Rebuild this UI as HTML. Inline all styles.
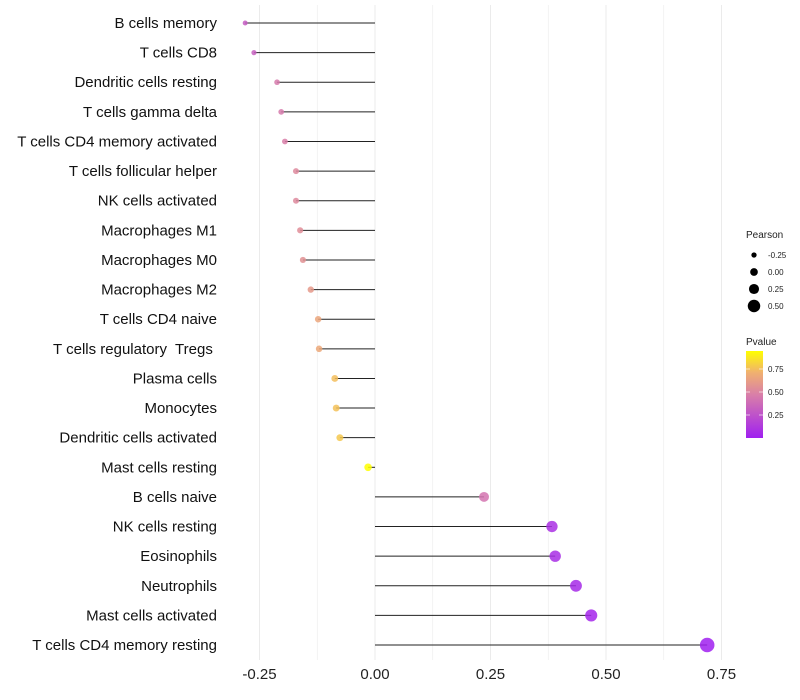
<!DOCTYPE html>
<html><head><meta charset="utf-8"><style>body{margin:0;background:#fff}svg{display:block;font-family:"Liberation Sans",sans-serif}</style></head>
<body>
<svg id="c" width="800" height="700">
<defs><linearGradient id="pg" x1="0" y1="1" x2="0" y2="0">
<stop offset="0" stop-color="#a020f0"/><stop offset="0.5" stop-color="#d97fa8"/><stop offset="0.75" stop-color="#f0b070"/><stop offset="1" stop-color="#ffff00"/></linearGradient></defs>
<g id="grid"></g><g id="marks"></g><g id="labels"></g><g id="legend"></g>
</svg>
<script>
const categories=["B cells memory","T cells CD8","Dendritic cells resting","T cells gamma delta","T cells CD4 memory activated","T cells follicular helper","NK cells activated","Macrophages M1","Macrophages M0","Macrophages M2","T cells CD4 naive","T cells regulatory  Tregs ","Plasma cells","Monocytes","Dendritic cells activated","Mast cells resting","B cells naive","NK cells resting","Eosinophils","Neutrophils","Mast cells activated","T cells CD4 memory resting"];
const pearson=[-0.281,-0.262,-0.212,-0.203,-0.195,-0.171,-0.171,-0.162,-0.156,-0.139,-0.123,-0.121,-0.087,-0.084,-0.076,-0.015,0.236,0.383,0.390,0.435,0.468,0.719];
const pvalues=[0.3,0.32,0.45,0.45,0.47,0.52,0.52,0.54,0.56,0.6,0.66,0.67,0.75,0.76,0.78,0.95,0.42,0.08,0.07,0.05,0.03,0.0];
const xTicks=[-0.25,0,0.25,0.5,0.75];
const xTickLabels=["-0.25","0.00","0.25","0.50","0.75"];
const sizeLegend=[-0.25,0,0.25,0.5];
const sizeLegendLabels=["-0.25","0.00","0.25","0.50"];
const pTicks=[0.25,0.5,0.75];
const NS="http://www.w3.org/2000/svg";
const x=v=>375+v*462;
const y=i=>23+i*29.62;
const r=v=>2.4+(v+0.3)*4.8;
function col(p){const st=[[0,[160,32,240]],[0.5,[217,127,168]],[0.75,[240,176,112]],[1,[255,255,0]]];let t=Math.min(p/0.946,1);for(let k=1;k<st.length;k++){if(t<=st[k][0]){const a=st[k-1],b=st[k],f=(t-a[0])/(b[0]-a[0]);return`rgb(${a[1].map((c,j)=>Math.round(c+(b[1][j]-c)*f)).join(",")})`;}}return"rgb(255,255,0)";}
function el(t,a,p){const e=document.createElementNS(NS,t);for(const k in a)e.setAttribute(k,a[k]);p.appendChild(e);return e;}
const G=document.getElementById("grid"),M=document.getElementById("marks"),L=document.getElementById("labels"),LG=document.getElementById("legend");
for(let v=-0.25;v<=0.751;v+=0.125){const g=el("line",{x1:x(v),x2:x(v),y1:5,y2:660,stroke:"#ebebeb","stroke-width":Math.abs(v*8%2)<0.01?1:0.6},G);}
xTicks.forEach((v,i)=>{const t=el("text",{x:x(v),y:679,"text-anchor":"middle","font-size":15,fill:"#222"},L);t.textContent=xTickLabels[i];});
categories.forEach((c,i)=>{
const t=el("text",{x:217,y:y(i)+5,"text-anchor":"end","font-size":15,fill:"#111",style:"white-space:pre"},L);t.textContent=c;
const ln=el("line",{x1:x(0),x2:x(pearson[i]),y1:y(i),y2:y(i),stroke:"#222","stroke-width":1},M);
const d=el("circle",{cx:x(pearson[i]),cy:y(i),r:r(pearson[i]),fill:col(pvalues[i]),"fill-opacity":0.85},M);
});
const t1=el("text",{x:746,y:238,"font-size":10,fill:"#222"},LG);t1.textContent="Pearson";
sizeLegend.forEach((v,i)=>{const cy=255+i*17;const d=el("circle",{cx:754,cy:cy,r:r(v),fill:"#000"},LG);const t=el("text",{x:768,y:cy+3,"font-size":8,fill:"#222"},LG);t.textContent=sizeLegendLabels[i];});
const t2=el("text",{x:746,y:345,"font-size":10,fill:"#222"},LG);t2.textContent="Pvalue";
const cb=el("rect",{x:746,y:351,width:17,height:87,fill:"url(#pg)"},LG);
pTicks.forEach(p=>{const yy=438-p*92;const tk=el("line",{x1:746,x2:750,y1:yy,y2:yy,stroke:"#fff","stroke-opacity":0.6},LG);const tk2=el("line",{x1:759,x2:763,y1:yy,y2:yy,stroke:"#fff","stroke-opacity":0.6},LG);const t=el("text",{x:768,y:yy+3,"font-size":8,fill:"#222"},LG);t.textContent=p.toFixed(2);});
</script>
</body></html>
